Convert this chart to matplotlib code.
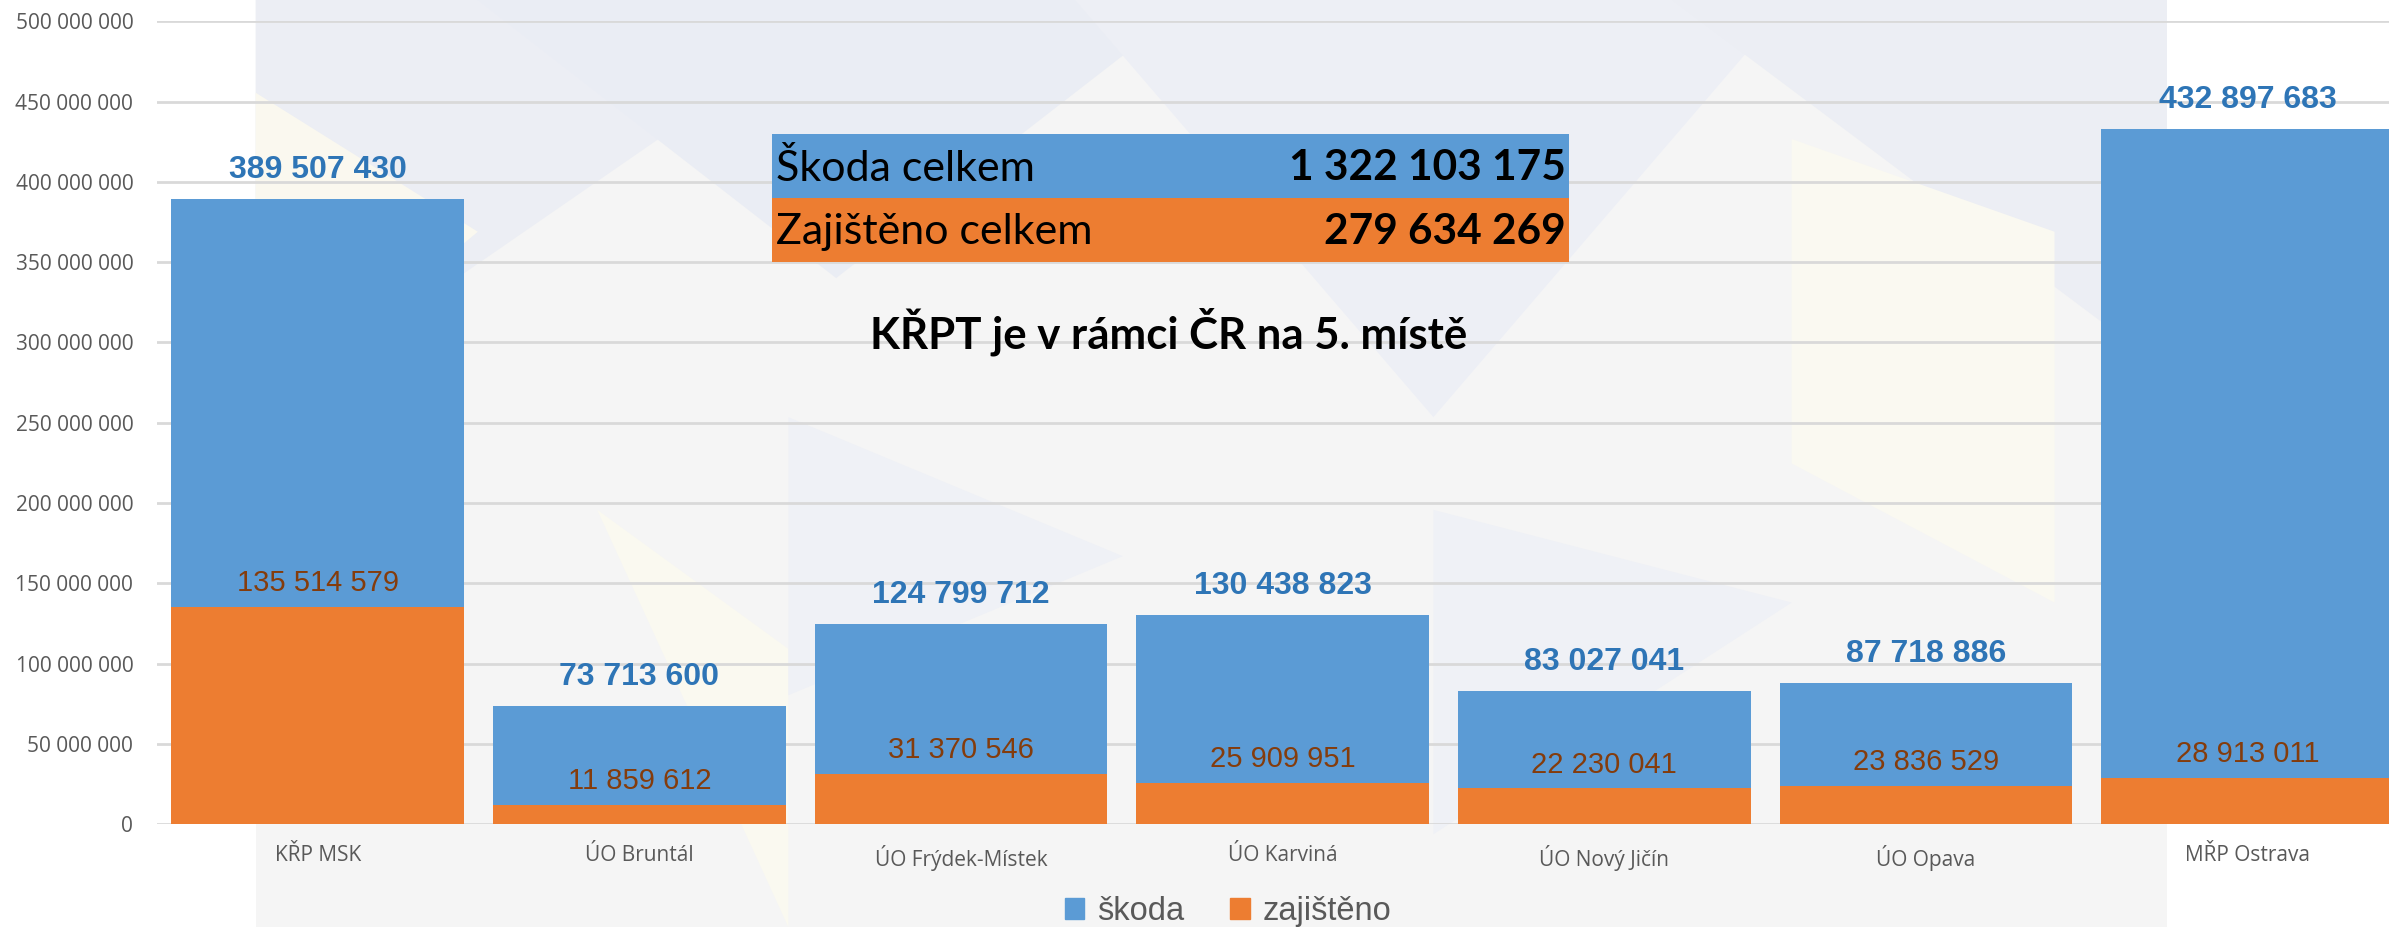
import matplotlib
matplotlib.use("Agg")
import matplotlib.pyplot as plt
from matplotlib.patches import Patch, Rectangle, Polygon

# data
units = ["KŘP MSK", "ÚO Bruntál", "ÚO Frýdek-Místek", "ÚO Karviná",
         "ÚO Nový Jičín", "ÚO Opava", "MŘP Ostrava"]
skoda = [389507430, 73713600, 124799712, 130438823, 83027041, 87718886, 432897683]
zajisteno = [135514579, 11859612, 31370546, 25909951, 22230041, 23836529, 28913011]
yticks = list(range(0, 500000001, 50000000))

BLUE = "#5b9bd5"
ORANGE = "#ed7d31"
LBLUE = "#2e75b6"
BROWN = "#843c0c"
GRAY = "#595959"


def fmt(v):
    return f"{v:,}".replace(",", " ")


fig = plt.figure(figsize=(23.89, 9.27), dpi=100, facecolor="white")

# faint background pattern
fig.patches.append(Rectangle((0.107, 0), 0.80, 1, transform=fig.transFigure,
                             facecolor="#f5f5f5", edgecolor="none", zorder=-10))
tris = [
    ([(0.107, 1), (0.107, 0.55), (0.36, 1)], "#eceef4"),
    ([(0.2, 1), (0.5, 1), (0.35, 0.7)], "#eaedf4"),
    ([(0.45, 1), (0.75, 1), (0.6, 0.55)], "#edeff5"),
    ([(0.7, 1), (0.907, 1), (0.907, 0.6)], "#eceef4"),
    ([(0.107, 0.9), (0.2, 0.75), (0.107, 0.55)], "#faf8ef"),
    ([(0.25, 0.45), (0.33, 0.3), (0.33, 0.0)], "#faf9f0"),
    ([(0.6, 0.45), (0.75, 0.35), (0.6, 0.1)], "#eff1f6"),
    ([(0.75, 0.85), (0.86, 0.75), (0.86, 0.35), (0.75, 0.5)], "#faf9f1"),
    ([(0.33, 0.55), (0.47, 0.4), (0.33, 0.25)], "#eff1f6"),
]
for pts, c in tris:
    fig.patches.append(Polygon(pts, closed=True, transform=fig.transFigure,
                               facecolor=c, edgecolor="none", zorder=-9))

ax = fig.add_axes([0.0657, 0.111, 0.9343, 0.866])
ax.set_facecolor("none")

x = range(len(units))
w = 0.91
ax.bar(x, skoda, width=w, color=BLUE, zorder=3)
ax.bar(x, zajisteno, width=w, color=ORANGE, zorder=4)

for i in x:
    ax.annotate(fmt(skoda[i]), (i, skoda[i]), xytext=(0, 10), textcoords="offset points",
                ha="center", va="bottom", fontsize=23, fontweight="bold",
                color=LBLUE, family="Liberation Sans", zorder=5, annotation_clip=False)
    ax.annotate(fmt(zajisteno[i]), (i, zajisteno[i]), xytext=(0, 7), textcoords="offset points",
                ha="center", va="bottom", fontsize=21,
                color=BROWN, family="Liberation Sans", zorder=5)

ax.set_xlim(-0.5, 6.44)
ax.set_ylim(0, 500000000)
ax.set_yticks(yticks)
ax.set_yticklabels([fmt(v) for v in yticks], family="Open Sans", fontsize=15, color=GRAY)
ax.set_xticks(list(x))
ax.set_xticklabels(units, family="Open Sans", fontsize=15, color=GRAY)
ax.tick_params(axis="y", length=0, pad=17)
ax.tick_params(axis="x", length=0, pad=15)
ax.grid(axis="y", color="#d9d9d9", linewidth=2, zorder=0)
for s in ax.spines.values():
    s.set_visible(False)

# summary box
tf = ["Lato", "DejaVu Sans"]
fig.patches.append(Rectangle((772 / 2389, 1 - 198 / 927), 797 / 2389, 64 / 927,
                             transform=fig.transFigure, facecolor=BLUE, edgecolor="none", zorder=6))
fig.patches.append(Rectangle((772 / 2389, 1 - 262 / 927), 797 / 2389, 64 / 927,
                             transform=fig.transFigure, facecolor=ORANGE, edgecolor="none", zorder=6))
fig.text(776 / 2389, 1 - 168 / 927, "Škoda celkem", fontsize=31, family=tf,
         ha="left", va="center", color="black", zorder=7)
fig.text(1566 / 2389, 1 - 168 / 927, fmt(sum(skoda)), fontsize=30.5, family=tf, fontweight="bold",
         ha="right", va="center", color="black", zorder=7)
fig.text(776 / 2389, 1 - 232 / 927, "Zajištěno celkem", fontsize=31, family=tf,
         ha="left", va="center", color="black", zorder=7)
fig.text(1566 / 2389, 1 - 232 / 927, fmt(sum(zajisteno)), fontsize=30.5, family=tf, fontweight="bold",
         ha="right", va="center", color="black", zorder=7)
fig.text(1169 / 2389, 1 - 332 / 927, "KŘPT je v rámci ČR na 5. místě", fontsize=31.5, family=tf,
         fontweight="bold", ha="center", va="center", color="black", zorder=7)

handles = [Patch(color=BLUE, label="škoda"), Patch(color=ORANGE, label="zajištěno")]
fig.legend(handles=handles, loc="lower center", bbox_to_anchor=(1228 / 2389, -0.032), ncol=2,
           frameon=False, prop={"family": "Liberation Sans", "size": 23.5}, labelcolor=GRAY,
           handlelength=0.6, handleheight=0.6, handletextpad=0.4, columnspacing=1.4)

fig.savefig("out.png", dpi=100, facecolor=fig.get_facecolor())
